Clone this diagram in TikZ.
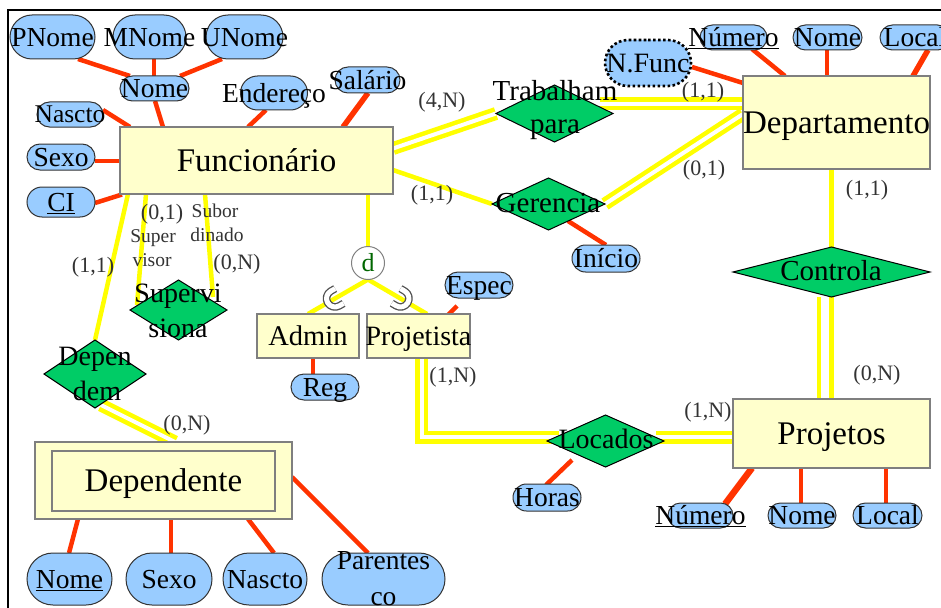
\documentclass[tikz,border=0pt]{standalone}
\usepackage{fontspec}
\setmainfont{Liberation Serif}
\usetikzlibrary{shapes.geometric,shapes.misc,calc,backgrounds}

\definecolor{entfill}{HTML}{FFFFCC}
\definecolor{entline}{HTML}{7F7F7F}
\definecolor{relfill}{HTML}{00CC66}
\definecolor{attfill}{HTML}{99CCFF}
\definecolor{attedge}{HTML}{333333}
\definecolor{attlink}{HTML}{FF3300}
\definecolor{rellink}{HTML}{FFFF00}
\definecolor{cardtext}{HTML}{333333}
\definecolor{disjtext}{HTML}{006600}
\definecolor{cupedge}{HTML}{505050}

% zero-width centred box, so the text never widens its shape
\newcommand{\zb}[1]{\makebox[0pt]{#1}}
\newcommand{\fsz}[1]{\fontsize{#1}{#1}\selectfont}

\tikzset{
  % font size plus a fixed text height, so every label is centred on its cap height
  fs/.code={\pgfmathsetmacro\fsth{0.66*#1}%
    \edef\fsdo{\noexpand\tikzset{font=\noexpand\fsz{#1}, text height=\fsth pt}}\fsdo},
  base/.style={inner sep=0pt, outer sep=0pt, text depth=0pt},
  entity/.style={base, rectangle, fill=entfill, draw=entline, line width=1.5pt, fs=33},
  weakent/.style={entity, minimum width=223pt, minimum height=60pt},
  relation/.style={base, diamond, fill=relfill, draw=black, line width=1pt},
  reltext/.style={base, fs=29},
  attrib/.style={base, rounded rectangle, fill=attfill, draw=attedge, line width=1pt, fs=27.5},
  derived/.style={attrib, draw=black, line width=2.6pt, dash pattern=on 2.6pt off 2.4pt},
  card/.style={base, text=cardtext, fs=22},
  role/.style={base, text=cardtext, fs=19.5},
  attlinkline/.style={draw=attlink, line width=4.5pt},
  partone/.style={draw=rellink, line width=4.5pt},
  parttot/.style={draw=rellink, line width=4.5pt, double=white, double distance=4pt},
  subsetcup/.style={draw=cupedge, line width=1.3pt, double=white, double distance=5pt,
                    line join=round},
}

\begin{document}
\begin{tikzpicture}[x=1pt, y=-1pt]
\useasboundingbox (0,0) rectangle (941,607);
\clip (0,0) rectangle (941,607);

% page frame
\draw[line width=2pt] (8,660) -- (8,10) -- (990,10);

% ---------- entities ----------
\node[entity, minimum width=273pt, minimum height=67pt] (func) at (256.5,160.5) {\zb{Funcionário}};
\node[entity, minimum width=187pt, minimum height=93pt] (dept) at (836.5,122.5) {\zb{Departamento}};
\node[entity, minimum width=197pt, minimum height=69pt] (proj) at (831.5,433.5) {\zb{Projetos}};
\node[entity, minimum width=257pt, minimum height=77pt] (dnt) at (163.5,480.5) {};
\node[weakent] (dntin) at (163.5,481) {\zb{Dependente}};
\node[entity, fs=28.5, minimum width=102pt, minimum height=44pt] (admin) at (308,336) {\zb{Admin}};
\node[entity, fs=28, minimum width=103pt, minimum height=44pt] (projt) at (418.5,336) {\zb{Projetista}};

% ---------- disjoint specialisation ----------
\node[base, circle, draw=gray, fill=white, line width=1pt, minimum size=33pt,
      text=disjtext, fs=26] (disj) at (368,263) {\zb{d}};

% ---------- relationships ----------
\node[relation, minimum width=117pt, minimum height=57pt] (trab) at (554.5,113.5) {};
\node[relation, minimum width=113pt, minimum height=52pt] (ger)  at (548.5,204) {};
\node[relation, minimum width=197pt, minimum height=50pt] (ctrl) at (831.5,272) {};
\node[relation, minimum width=117pt, minimum height=52pt] (loc)  at (605.5,441) {};
\node[relation, minimum width=97pt,  minimum height=60pt] (sup)  at (178.5,310) {};
\node[relation, minimum width=102pt, minimum height=68pt] (depm) at (95,374) {};

\node[reltext] (trabA) at (555,90.5) {Trabalham};
\node[reltext] (trabB) at (555,124) {para};
\node[reltext] (gerT)  at (548,203) {Gerencia};
\node[reltext] (ctrlT) at (831,270.5) {Controla};
\node[reltext, fs=28] (locT) at (606,439.5) {Locados};
\node[reltext, fs=28] (supA) at (178,293) {Supervi};
\node[reltext, fs=28] (supB) at (178,328) {siona};
\node[reltext, fs=28] (depA) at (95,356) {Depen};
\node[reltext, fs=28] (depB) at (97,391) {dem};

% ---------- attributes ----------
\node[attrib, minimum width=85pt, minimum height=44pt] (pnome) at (52.5,37) {\zb{PNome}};
\node[attrib, minimum width=73pt, minimum height=44pt] (mnome) at (149.5,37) {\zb{MNome}};
\node[attrib, minimum width=77pt, minimum height=44pt] (unome) at (244.5,37) {\zb{UNome}};
\node[attrib, minimum width=69pt, minimum height=25pt] (fnome) at (154.5,88.5) {\zb{Nome}};
\node[attrib, fs=25.5, minimum width=66pt, minimum height=25pt] (nascto) at (70,114.5) {\zb{Nascto}};
\node[attrib, minimum width=68pt, minimum height=26pt] (sexo) at (61,157) {\zb{Sexo}};
\node[attrib, minimum width=68pt, minimum height=30pt] (ci) at (61,202) {\zb{\underline{CI}}};
\node[attrib, minimum width=67pt, minimum height=34pt] (ender) at (274,93) {\zb{Endereço}};
\node[attrib, minimum width=65pt, minimum height=26pt] (sal) at (367.5,80) {\zb{Salário}};
\node[derived, fs=28, minimum width=86pt, minimum height=46pt] (nfunc) at (648,63) {\zb{N.Func}};
\node[attrib, minimum width=67pt, minimum height=25pt] (dnum) at (733.5,37.5) {\zb{\underline{Número}}};
\node[attrib, minimum width=69pt, minimum height=25pt] (dnome) at (827.5,37.5) {\zb{Nome}};
\node[attrib, minimum width=70pt, minimum height=25pt] (dloc) at (915,37.5) {\zb{Local}};
\node[attrib, minimum width=68pt, minimum height=27pt] (inicio) at (606,258.5) {\zb{Início}};
\node[attrib, minimum width=68pt, minimum height=26pt] (espec) at (479,285) {\zb{Espec}};
\node[attrib, minimum width=68pt, minimum height=26pt] (reg) at (325,387) {\zb{Reg}};
\node[attrib, minimum width=68pt, minimum height=27pt] (horas) at (547,497.5) {\zb{Horas}};
\node[attrib, minimum width=65pt, minimum height=25pt] (pnum) at (700.5,515.5) {\zb{\underline{Número}}};
\node[attrib, minimum width=68pt, minimum height=25pt] (pnome2) at (802,515.5) {\zb{Nome}};
\node[attrib, minimum width=69pt, minimum height=25pt] (plocal) at (887.5,515.5) {\zb{Local}};
\node[attrib, minimum width=85pt, minimum height=52pt] (dnnome) at (69.5,579) {\zb{\underline{Nome}}};
\node[attrib, minimum width=86pt, minimum height=52pt] (dnsexo) at (169,579) {\zb{Sexo}};
\node[attrib, minimum width=84pt, minimum height=52pt] (dnnasc) at (265,579) {\zb{Nascto}};
\node[attrib, minimum width=123pt, minimum height=52pt] (dnpar) at (383.5,579) {};
\node[base, fs=27.5] (dnparA) at (383.5,560) {Parentes};
\node[base, fs=27.5] (dnparB) at (383.5,596) {co};

% ---------- cardinalities and roles ----------
\node[card] (cFT) at (442,100) {(4,N)};
\node[card] (cTD) at (703,90) {(1,1)};
\node[card] (cGD) at (704,168) {(0,1)};
\node[card] (cFG) at (432,193) {(1,1)};
\node[card] (cDC) at (867,188) {(1,1)};
\node[card] (cCP) at (877,373) {(0,N)};
\node[card] (cLP) at (708,410) {(1,N)};
\node[card] (cPL) at (453,375) {(1,N)};
\node[card] (cSv) at (162,212) {(0,1)};
\node[card] (cFD) at (93,265) {(1,1)};
\node[card] (cSb) at (237,262) {(0,N)};
\node[card] (cDD) at (187,423) {(0,N)};
\node[role] (rSubA) at (215,211.5) {Subor};
\node[role] (rSubB) at (217,235.5) {dinado};
\node[role] (rSupA) at (153,236.5) {Super};
\node[role] (rSupB) at (152,260.5) {visor};

% ---------- connectors ----------
\begin{scope}[on background layer]
  \fill[white] (0,0) rectangle (941,607);
  % participation lines (double = total participation)
  \draw[parttot] ([shift={(0,-12)}]func.east) -- (trab.west);
  \draw[parttot] ([shift={(-13,-9.5)}]trab.east) -- ([shift={(0,-18.5)}]dept.west);
  \draw[partone] ([shift={(0,9.5)}]func.east) -- (ger.west);
  \draw[parttot] (ger.east) -- ([shift={(0,-8.5)}]dept.west);
  \draw[partone] (ctrl.north) -- (ctrl.north |- dept.south);
  \draw[parttot, double distance=8pt] ([shift={(-6.5,0)}]ctrl.south) -- ([shift={(-6.5,0)}]proj.north);
  \draw[parttot] ([shift={(-8,-4)}]loc.east) -- ([shift={(0,3.5)}]proj.west);
  \draw[parttot] ([xshift=3pt]projt.south) |- ([shift={(12,-4)}]loc.west);
  \draw[partone] ([xshift=8pt]func.south west) -- (depm.north);
  \draw[parttot] ([shift={(6,-3)}]depm.south) -- ([shift={(140,0)}]dnt.north west);
  \draw[partone] ([xshift=26pt]func.south west) -- ([shift={(7,-5)}]sup.west);
  \draw[partone] ([xshift=85pt]func.south west) -- ([shift={(-14,-13)}]sup.east);
  \draw[partone] (disj.north) -- (disj.north |- func.south);
  \draw[partone] (disj.south) -- (admin.north);
  \draw[partone] (disj.south) -- ([xshift=8.5pt]projt.north);

  % attribute links
  \draw[attlinkline] ([shift={(25.5,22)}]pnome.center) -- ([shift={(-24.5,-12.5)}]fnome.center);
  \draw[attlinkline] ([shift={(4.5,22)}]mnome.center) -- ([shift={(-0.5,-12.5)}]fnome.center);
  \draw[attlinkline] ([shift={(-22.5,22)}]unome.center) -- ([shift={(25.5,-12.5)}]fnome.center);
  \draw[attlinkline] ([shift={(0.5,12.5)}]fnome.center) -- ([shift={(-93.5,-33.5)}]func.center);
  \draw[attlinkline] ([shift={(33,-4.5)}]nascto.center) -- ([shift={(-126.5,-33.5)}]func.center);
  \draw[attlinkline] ([shift={(34,4)}]sexo.center) -- ([shift={(-128.5,0.5)}]func.center);
  \draw[attlinkline] ([shift={(34,1)}]ci.center) -- ([shift={(-134.5,34)}]func.center);
  \draw[attlinkline] ([shift={(-8,17)}]ender.center) -- ([shift={(-8.5,-33.5)}]func.center);
  \draw[attlinkline, line width=5.5pt] ([shift={(0.5,13)}]sal.center) -- ([shift={(86.5,-33.5)}]func.center);
  \draw[attlinkline] ([shift={(44,4)}]nfunc.center) -- ([shift={(-93.5,-39.5)}]dept.center);
  \draw[attlinkline] ([shift={(18.5,11.5)}]dnum.center) -- ([shift={(-51.5,-46.5)}]dept.center);
  \draw[attlinkline] ([shift={(-0.5,12.5)}]dnome.center) -- ([shift={(-9.5,-46.5)}]dept.center);
  \draw[attlinkline, line width=5.5pt] ([shift={(13,12.5)}]dloc.center) -- ([shift={(76.5,-46.5)}]dept.center);
  \draw[attlinkline] ([shift={(19.5,17)}]ger.center) -- ([shift={(0,-13.5)}]inicio.center);
  \draw[attlinkline] ([shift={(-22,21)}]espec.center) -- ([shift={(29.5,-21)}]projt.center);
  \draw[attlinkline] ([shift={(5,22)}]admin.center) -- ([shift={(-12,-13)}]reg.center);
  \draw[attlinkline] ([shift={(-33.5,19)}]loc.center) -- ([shift={(-1,-12.5)}]horas.center);
  \draw[attlinkline, line width=6.5pt] ([shift={(-79.5,34.5)}]proj.center) -- ([shift={(24.5,-11.5)}]pnum.center);
  \draw[attlinkline] ([shift={(-30.5,34.5)}]proj.center) -- ([shift={(-1,-12.5)}]pnome2.center);
  \draw[attlinkline] ([shift={(54.5,34.5)}]proj.center) -- ([shift={(-1.5,-12.5)}]plocal.center);
  \draw[attlinkline] ([shift={(-85.5,38.5)}]dnt.center) -- ([shift={(-0.5,-26)}]dnnome.center);
  \draw[attlinkline] ([shift={(7.5,38.5)}]dnt.center) -- ([shift={(2,-26)}]dnsexo.center);
  \draw[attlinkline] ([shift={(84.5,38.5)}]dnt.center) -- ([shift={(9,-26)}]dnnasc.center);
  \draw[attlinkline] ([shift={(128.5,-3.5)}]dnt.center) -- ([shift={(-15.5,-26)}]dnpar.center);
\end{scope}

% subset marks on the specialisation lines: a U open towards the circle
% (offsets and angles are in the picture's own x/y frame, whose y axis points down)
\draw[subsetcup] ($(disj.south)!0.55!(admin.north)$) ++(8.53,4.94) -- ++(-4.35,2.46)
  arc[start angle=60.5, end angle=240.5, radius=8.5] -- ++(4.35,-2.46);
\draw[subsetcup] ($(disj.south)!0.55!([xshift=8.5pt]projt.north)$) ++(0.04,-9.86) -- ++(4.3,2.55)
  arc[start angle=-59.3, end angle=120.7, radius=8.5] -- ++(-4.3,-2.55);
\end{tikzpicture}
\end{document}
